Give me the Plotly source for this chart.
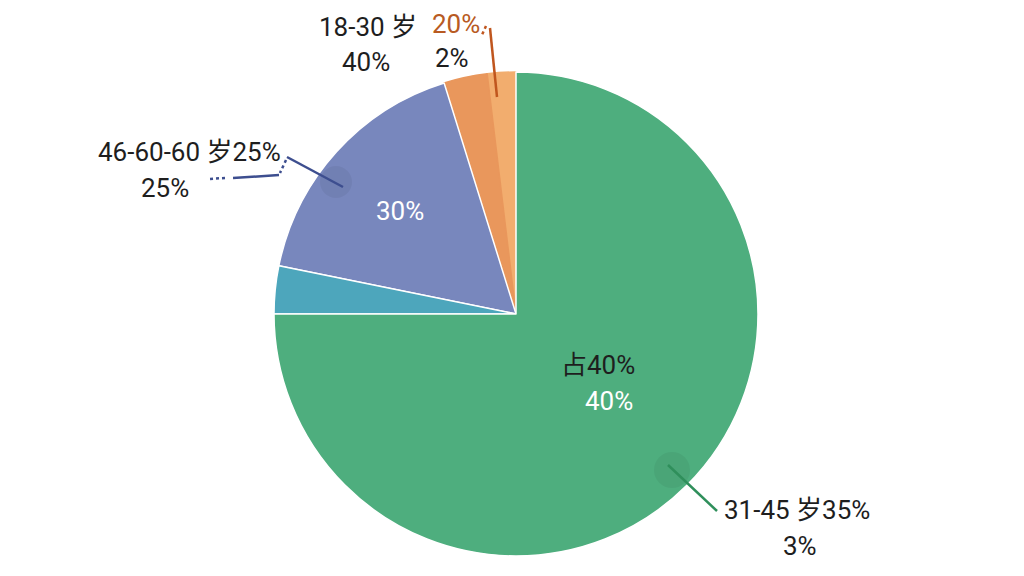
import plotly.graph_objects as go

# slices, counter-clockwise from 12 o'clock
slice_names = ["18-30岁(浅)", "18-30岁", "46-60岁", "其他", "31-45岁"]
slice_values = [1.9, 2.9, 17.0, 3.2, 75.0]
slice_colors = ["#F2AD6E", "#E9975C", "#7887BD", "#4DA6BC", "#4EAE7E"]
border_colors = ["#F2AD6E", "#E9975C", "white", "white", "white"]

W, H = 1024, 576
OFF = 8  # page body margin
FONT = "Roboto, 'Noto Sans CJK SC', sans-serif"


def px(x):
    return (x - OFF) / W


def py(y):
    return 1 - (y - OFF) / H


# plotly's counterclockwise pies start the first slice at rotation + its share
start = -slice_values[0] / sum(slice_values) * 360

fig = go.Figure()
fig.add_trace(go.Pie(
    labels=slice_names,
    values=slice_values,
    sort=False,
    direction="counterclockwise",
    rotation=start,
    textinfo="none",
    hoverinfo="label+percent",
    marker=dict(colors=slice_colors, line=dict(color=border_colors, width=1.5)),
    domain=dict(x=[px(274), px(758)], y=[py(556), py(72)]),
    showlegend=False,
))

# (text, x, y, colour)
labels = [
    ("18-30 岁", 368, 27, "#1e1e1e"),
    ("40%", 366, 62, "#1e1e1e"),
    ("20%", 456, 24, "#B85A22"),
    ("2%", 452, 58, "#1e1e1e"),
    ("46-60-60 岁25%", 189, 152, "#1e1e1e"),
    ("25%", 165, 188, "#1e1e1e"),
    ("30%", 400, 211, "white"),
    ("占40%", 598, 365, "#1e1e1e"),
    ("40%", 609, 401, "white"),
    ("31-45 岁35%", 797, 510, "#1e1e1e"),
    ("3%", 800, 546, "#1e1e1e"),
]
for text, x, y, c in labels:
    fig.add_annotation(x=px(x), y=py(y), xref="paper", yref="paper",
                       text=text, showarrow=False,
                       xanchor="center", yanchor="middle",
                       font=dict(family=FONT, size=26, color=c))

# soft shading where the leaders touch the slices (x, y, r)
spots = [(336, 182, 16), (672, 470, 18)]
for x, y, r in spots:
    fig.add_shape(type="circle", xref="paper", yref="paper",
                  x0=px(x - r), y0=py(y + r), x1=px(x + r), y1=py(y - r),
                  fillcolor="rgba(0,0,0,0.05)", line=dict(width=0))

# leader lines (x0, y0, x1, y1, colour, dash)
leaders = [
    (497, 97, 490, 28, "#C0561E", "solid"),
    (486, 26, 481, 37, "#C0561E", "dot"),
    (343, 187, 287, 157, "#3D4E8F", "solid"),
    (286, 160, 280, 173, "#3D4E8F", "dot"),
    (279, 175, 233, 178, "#3D4E8F", "solid"),
    (225, 178, 208, 179, "#3D4E8F", "dot"),
    (668, 465, 717, 511, "#2F8F5B", "solid"),
]
for x0, y0, x1, y1, c, d in leaders:
    fig.add_shape(type="line", xref="paper", yref="paper",
                  x0=px(x0), y0=py(y0), x1=px(x1), y1=py(y1),
                  line=dict(color=c, width=2.5, dash=d))

fig.update_layout(
    width=W, height=H,
    margin=dict(l=0, r=0, t=0, b=0),
    paper_bgcolor="white",
    plot_bgcolor="white",
    font=dict(family=FONT),
)

fig.write_html("out.html")
